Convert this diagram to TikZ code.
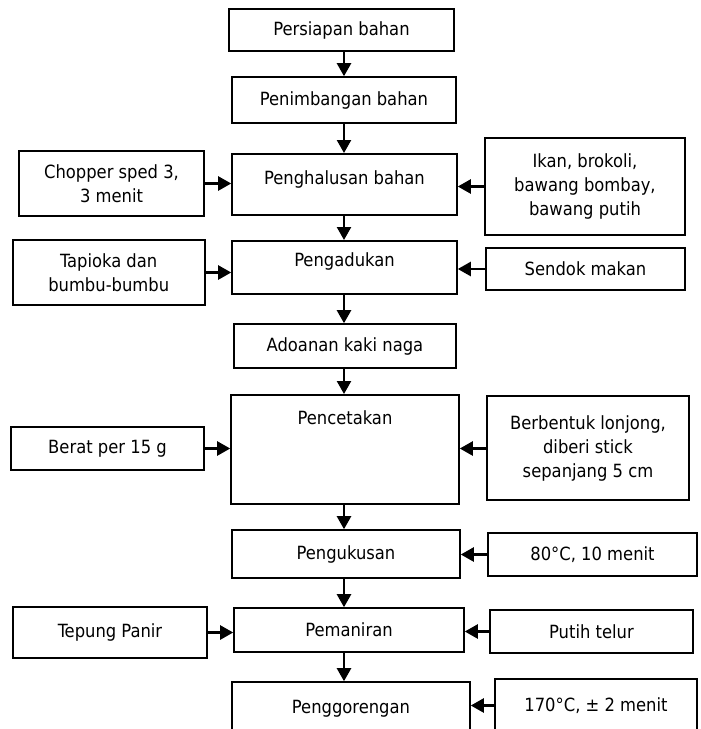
\documentclass[tikz,border=0pt]{standalone}
\usepackage{fontspec}
\setmainfont{DejaVu Sans Condensed}
\usetikzlibrary{arrows.meta}
\tikzset{
    box/.style={draw, line width=1.6pt, inner sep=2pt, align=center, font=\fontsize{18.2}{24}\selectfont},
    arr/.style={line width=2.4pt, -{Triangle[width=14pt,length=13pt]}}
}
\begin{document}
\begin{tikzpicture}[x=1pt, y=-1pt]
    \useasboundingbox (0,0) rectangle (701,729);

    % main process column
    \node[box, minimum width=225pt, minimum height=42pt] (persiapan) at (341.5,30) {Persiapan bahan};
    \node[box, minimum width=224pt, minimum height=46pt] (penimbangan) at (344,100) {Penimbangan bahan};
    \node[box, anchor=north, minimum width=225pt, inner ysep=0pt, text height=30.5pt, text depth=30.5pt] (penghalusan) at (344.5,153) {Penghalusan bahan};
    \node[box, anchor=north, minimum width=225pt, inner ysep=0pt, text height=26pt, text depth=27pt] (pengadukan) at (344.5,240) {Pengadukan};
    \node[box, minimum width=222pt, minimum height=44pt] (adoanan) at (345,346) {Adoanan kaki naga};
    \node[box, anchor=north, minimum width=228pt, inner ysep=0pt, text height=29.5pt, text depth=79.5pt] (pencetakan) at (345,394) {Pencetakan};
    \node[box, minimum width=228pt, minimum height=48pt] (pengukusan) at (346,554) {Pengukusan};
    \node[box, minimum width=230pt, minimum height=44pt] (pemaniran) at (349,630) {Pemaniran};
    \node[box, minimum width=238pt, minimum height=53pt] (penggorengan) at (351,708.5) {Penggorengan};

    % inputs on the left
    \node[box, minimum width=185pt, minimum height=65pt] (chopper) at (111.5,183.5) {Chopper sped 3,\\3 menit};
    \node[box, minimum width=192pt, minimum height=65pt] (tapioka) at (108.75,272.5) {Tapioka dan\\bumbu-bumbu};
    \node[box, minimum width=193pt, minimum height=43pt] (berat) at (107.5,448.5) {Berat per 15 g};
    \node[box, minimum width=194pt, minimum height=51pt] (tepung) at (110,632.5) {Tepung Panir};

    % inputs on the right
    \node[box, minimum width=200pt, minimum height=97pt] (ikan) at (585,186.5) {Ikan, brokoli,\\bawang bombay,\\bawang putih};
    \node[box, minimum width=199pt, minimum height=42pt] (sendok) at (585.5,269) {Sendok makan};
    \node[box, minimum width=202pt, minimum height=104pt] (berbentuk) at (588,448) {Berbentuk lonjong,\\diberi stick\\sepanjang 5 cm};
    \node[box, minimum width=209pt, minimum height=43pt] (suhua) at (592.5,554.5) {80°C, 10 menit};
    \node[box, minimum width=203pt, minimum height=43pt] (putih) at (591.5,631.5) {Putih telur};
    \node[box, minimum width=202pt, minimum height=53pt] (suhub) at (596,705.5) {170°C, ± 2 menit};

    % arrows down the column
    \foreach \a/\b in {persiapan/penimbangan, penimbangan/penghalusan, penghalusan/pengadukan,
                       pengadukan/adoanan, adoanan/pencetakan, pencetakan/pengukusan,
                       pengukusan/pemaniran, pemaniran/penggorengan}
        \draw[arr] (\a.south -| penimbangan) -- (\b.north -| penimbangan);

    % side arrows
    \foreach \a/\b in {chopper/penghalusan, tapioka/pengadukan, berat/pencetakan, tepung/pemaniran}
        \draw[arr] (\a.east) -- (\a.east -| \b.west);
    \foreach \a/\b in {ikan/penghalusan, sendok/pengadukan, suhua/pengukusan, putih/pemaniran, suhub/penggorengan}
        \draw[arr] (\a.west) -- (\a.west -| \b.east);
    \draw[arr] (berbentuk.west |- berat) -- (pencetakan.east |- berat);
\end{tikzpicture}
\end{document}
